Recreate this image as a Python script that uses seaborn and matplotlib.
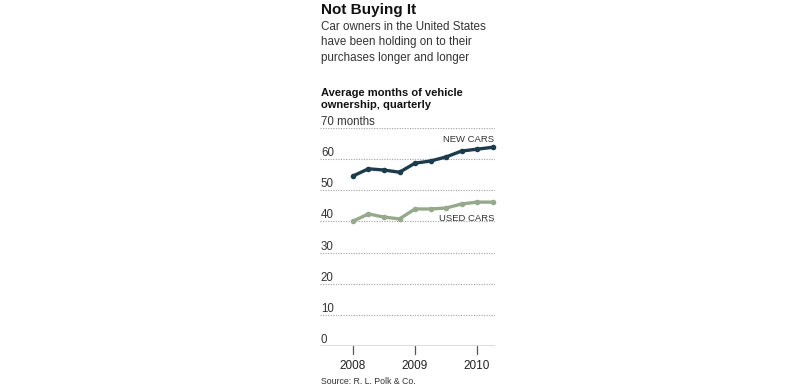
import matplotlib
matplotlib.use("Agg")
import matplotlib.pyplot as plt
import matplotlib.transforms as mtransforms
import seaborn as sns
import pandas as pd

# ---- data ----
quarters = [2008.0, 2008.25, 2008.5, 2008.75, 2009.0, 2009.25, 2009.5, 2009.75, 2010.0, 2010.25]
new_cars = [54.6, 56.9, 56.5, 55.8, 58.7, 59.4, 60.7, 62.6, 63.2, 63.8]
used_cars = [40.1, 42.4, 41.4, 40.8, 44.0, 44.0, 44.3, 45.6, 46.2, 46.2]
series_names = ["NEW CARS", "USED CARS"]
y_ticks = [0, 10, 20, 30, 40, 50, 60, 70]
y_tick_labels = ["0", "10", "20", "30", "40", "50", "60", "70 months"]
x_ticks = [2008, 2009, 2010]
x_tick_labels = ["2008", "2009", "2010"]

df = pd.DataFrame({
    "quarter": quarters * 2,
    "months": new_cars + used_cars,
    "series": [series_names[0]] * len(quarters) + [series_names[1]] * len(quarters),
})

sns.set_theme(style="white")
plt.rcParams["font.family"] = ["Liberation Sans", "DejaVu Sans"]

W, H = 800, 388
fig = plt.figure(figsize=(W / 100, H / 100), dpi=100)
fig.patch.set_facecolor("white")

def fx(px):
    return px / W

def fy(py):
    return 1 - py / H

ax_left, ax_right = 320, 495
ax_top, ax_bottom = 128, 346
ax = fig.add_axes([fx(ax_left), fy(ax_bottom), fx(ax_right - ax_left), (ax_bottom - ax_top) / H])
ax.set_facecolor("white")

colors = {"NEW CARS": "#1c3c4c", "USED CARS": "#97a98d"}
sns.lineplot(data=df, x="quarter", y="months", hue="series", palette=colors,
             marker="o", markersize=4, markeredgewidth=0, linewidth=2.4,
             legend=False, ax=ax, clip_on=False, zorder=3)

ax.set_xlim(2007.468, 2010.29)
ax.set_ylim(0, 70)
for s in ax.spines.values():
    s.set_visible(False)
ax.set_xlabel("")
ax.set_ylabel("")
ax.set_yticks([])
ax.set_xticks([])

# gridlines (dotted) and baseline
for v in y_ticks:
    if v == 0:
        ax.axhline(v, color="#555555", lw=1.0, zorder=2)
    else:
        ax.axhline(v, color="#a0a0a0", lw=0.8, ls=(0, (1, 1.3)), zorder=1)

trans = mtransforms.blended_transform_factory(ax.transAxes, ax.transData)
for v, lab in zip(y_ticks, y_tick_labels):
    ax.text(0.005, v, lab, transform=trans, ha="left", va="bottom",
            fontsize=8.3, color="#333333")

# x ticks drawn below baseline
trans_x = mtransforms.blended_transform_factory(ax.transData, ax.transAxes)
for v, lab in zip(x_ticks, x_tick_labels):
    ax.plot([v, v], [0, -0.035], transform=trans_x, color="#555555", lw=0.9, clip_on=False)
    ax.text(v, -0.065, lab, transform=trans_x, ha="center", va="top",
            fontsize=8.5, color="#222222")

# series labels
ax.text(0.995, 64.9, "NEW CARS", transform=trans, ha="right", va="bottom",
        fontsize=6.8, color="#333333")
ax.text(0.995, 39.4, "USED CARS", transform=trans, ha="right", va="bottom",
        fontsize=6.8, color="#333333")

# titles
fig.text(fx(321), fy(3), "Not Buying It", ha="left", va="top",
         fontsize=11, fontweight="bold", color="#111111")
sub = ["Car owners in the United States",
       "have been holding on to their",
       "purchases longer and longer"]
for i, line in enumerate(sub):
    fig.text(fx(321), fy(27 + i * 15.5), line, ha="left", va="center",
             fontsize=8.4, color="#333333")
fig.text(fx(321), fy(93), "Average months of vehicle", ha="left", va="center",
         fontsize=8, fontweight="bold", color="#111111")
fig.text(fx(321), fy(104.5), "ownership, quarterly", ha="left", va="center",
         fontsize=8, fontweight="bold", color="#111111")
fig.text(fx(321), fy(381), "Source: R. L. Polk & Co.", ha="left", va="center",
         fontsize=6.3, color="#333333")

fig.savefig("out.png", dpi=100, facecolor="white")
